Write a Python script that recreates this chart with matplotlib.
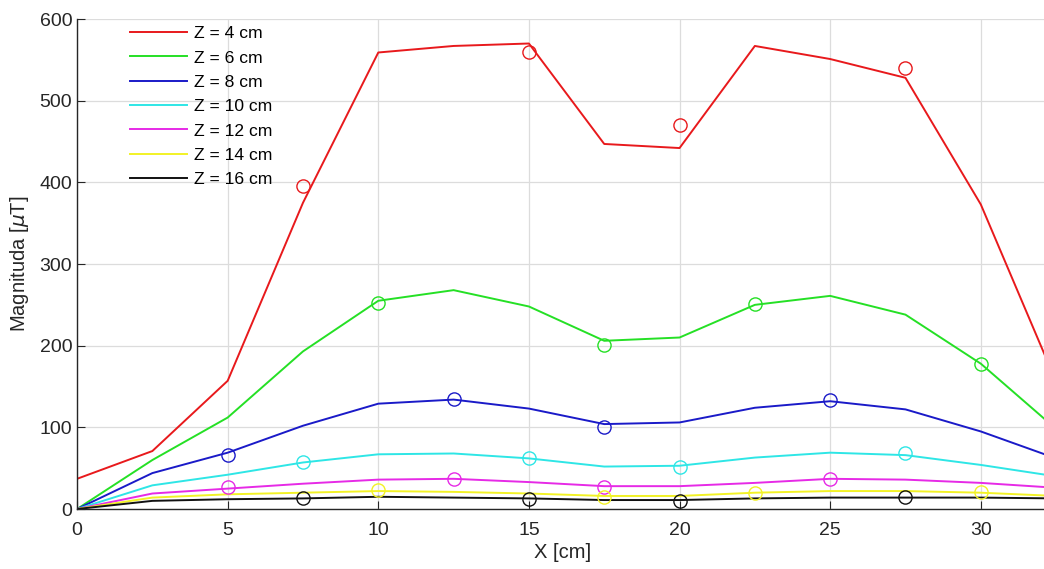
import matplotlib.pyplot as plt
import numpy as np

plt.rcParams['font.family'] = ['Liberation Sans', 'DejaVu Sans']

# Line positions along X (cm)
x_line = np.arange(0, 33, 2.5)

# Simulated magnitude per height Z (uT)
z4 = [37, 71, 157, 375, 559, 567, 570, 447, 442, 567, 551, 528, 373, 156]
z6 = [0, 60, 112, 193, 255, 268, 248, 206, 210, 250, 261, 238, 178, 98]
z8 = [0, 44, 69, 102, 129, 134, 123, 104, 106, 124, 132, 122, 95, 62]
z10 = [0, 29, 42, 57, 67, 68, 62, 52, 53, 63, 69, 66, 54, 40]
z12 = [0, 19, 25, 31, 36, 37, 33, 28, 28, 32, 37, 36, 32, 26]
z14 = [0, 14, 18, 20, 22, 21, 19, 16, 16, 20, 22, 22, 20, 16]
z16 = [0, 10, 12, 13, 15, 14, 13, 11, 11, 13, 14, 14, 14, 13]

# Measured points (circles)
m4_x, m4_y = [7.5, 15, 20, 27.5], [396, 560, 470, 540]
m6_x, m6_y = [10, 17.5, 22.5, 30], [252, 201, 251, 177]
m8_x, m8_y = [5, 12.5, 17.5, 25], [66, 135, 100, 133]
m10_x, m10_y = [7.5, 15, 20, 27.5], [57, 63, 52, 68]
m12_x, m12_y = [5, 12.5, 17.5, 25], [27, 37, 27, 37]
m14_x, m14_y = [10, 17.5, 22.5, 30], [23, 15, 20, 21]
m16_x, m16_y = [7.5, 15, 20, 27.5], [14, 12, 10, 15]

labels = ['Z = 4 cm', 'Z = 6 cm', 'Z = 8 cm', 'Z = 10 cm',
          'Z = 12 cm', 'Z = 14 cm', 'Z = 16 cm']
colors = ['#e8191c', '#25e025', '#1a1ac8', '#2ee6e6',
          '#e62ae6', '#f2f226', '#111111']

lines = [z4, z6, z8, z10, z12, z14, z16]
marks = [(m4_x, m4_y), (m6_x, m6_y), (m8_x, m8_y), (m10_x, m10_y),
         (m12_x, m12_y), (m14_x, m14_y), (m16_x, m16_y)]

fig = plt.figure(figsize=(10.44, 5.69), dpi=100)
ax = fig.add_axes([0.0738, 0.1054, 0.93, 0.8612])

for y, lab, c in zip(lines, labels, colors):
    ax.plot(x_line, y, color=c, lw=1.4, label=lab)
for (mx, my), c in zip(marks, colors):
    ax.plot(mx, my, 'o', mfc='none', mec=c, ms=9.5, mew=1.0)

ax.set_xlim(0, 32.23)
ax.set_ylim(0, 600)
ax.set_xticks([0, 5, 10, 15, 20, 25, 30])
ax.set_yticks([0, 100, 200, 300, 400, 500, 600])
ax.grid(True, color='#dcdcdc', lw=0.9)
ax.set_axisbelow(True)
for s in ['top', 'right']:
    ax.spines[s].set_visible(False)
for s in ['left', 'bottom']:
    ax.spines[s].set_color('#262626')
    ax.spines[s].set_linewidth(1.0)
ax.tick_params(direction='in', length=6, colors='#262626', labelsize=14)
ax.tick_params(axis='x', pad=9)
ax.set_xlabel('X [cm]', fontsize=14.5, color='#262626', labelpad=3)
ax.set_ylabel(r'Magnituda [$\mu$T]', fontsize=14.5, color='#262626', labelpad=6)

ax.legend(loc='upper left', bbox_to_anchor=(0.038, 1.018), frameon=False,
          fontsize=12.6, handlelength=3.3, labelspacing=0.52, handletextpad=0.4)

plt.savefig('out.png', dpi=100)
